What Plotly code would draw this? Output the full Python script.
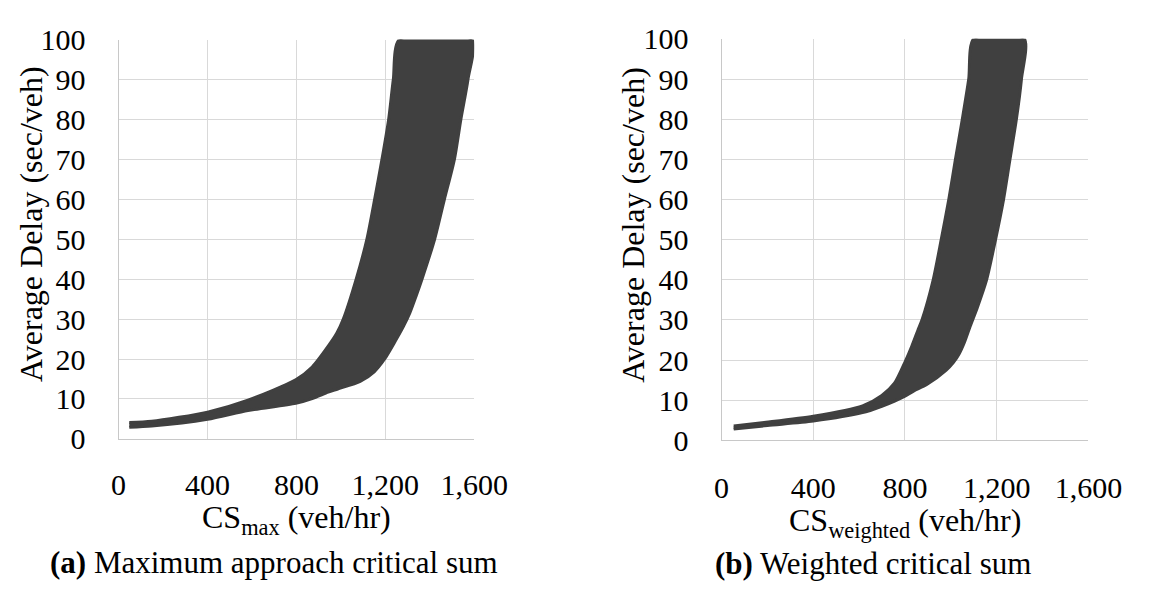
import plotly.graph_objects as go

W, H = 1161, 597

# ---------------- data ----------------
x_ticks = [0, 400, 800, 1200, 1600]
x_tick_labels = ["0", "400", "800", "1,200", "1,600"]
y_ticks = [0, 10, 20, 30, 40, 50, 60, 70, 80, 90, 100]

# Panel (a): CS_max -- upper (left/top) and lower (right/bottom) edges of the point cloud
a_upper_x = [48, 149, 400, 582, 797, 871, 943, 982, 1011, 1069, 1117, 1152, 1185, 1215, 1236, 1263]
a_upper_y = [4.1, 4.4, 6.7, 9.7, 14.8, 18.0, 23.2, 26.5, 30, 40, 50, 60, 70, 80, 90, 100]
a_lower_x = [48, 149, 400, 582, 797, 871, 943, 986, 1087, 1150, 1197, 1245, 1280, 1310, 1340, 1365, 1422, 1466, 1511, 1540, 1572, 1590]
a_lower_y = [2.9, 3.2, 4.9, 7.1, 8.9, 10.1, 11.7, 12.5, 14.4, 16.8, 20.0, 24.5, 28.0, 31.5, 36.0, 40, 50, 60, 70, 80, 90, 100]

# Panel (b): CS_weighted
b_upper_x = [53, 194, 400, 615, 699, 755, 800, 830, 860, 874, 923, 958, 991, 1020, 1050, 1078, 1100]
b_upper_y = [3.6, 4.5, 6.0, 8.6, 11.2, 14.3, 19.5, 23.5, 28, 30, 40, 50, 60, 70, 80, 90, 100]
b_lower_x = [53, 200, 400, 615, 699, 755, 800, 839, 895, 980, 1010, 1036, 1060, 1085, 1115, 1156, 1195, 1230, 1258, 1286, 1308, 1320]
b_lower_y = [2.8, 3.7, 4.8, 6.9, 8.5, 9.8, 11.0, 12.3, 13.9, 17.5, 19.3, 21.5, 24.5, 28.5, 33, 40, 50, 60, 70, 80, 90, 100]

y_title = "Average Delay (sec/veh)"
a_x_title = "CS<sub>max</sub> (veh/hr)"
b_x_title = "CS<sub>weighted</sub> (veh/hr)"
a_caption = "<b>(a)</b> Maximum approach critical sum"
b_caption = "<b>(b)</b> Weighted critical sum"

# ---------------- style ----------------
FONT = "Liberation Serif"
CLOUD = "#404040"
GRID = "#d9d9d9"
AXIS = "#c8c8c8"
TICK_SIZE = 30
TITLE_SIZE = 32
CAP_SIZE = 31

fig = go.Figure()


def band(ux, uy, lx, ly, xa, ya):
    xs = list(ux) + list(reversed(lx))
    ys = list(uy) + list(reversed(ly))
    fig.add_trace(go.Scatter(
        x=xs, y=ys, mode="lines", fill="toself",
        fillcolor=CLOUD, line=dict(color=CLOUD, width=3, shape="spline", smoothing=0.7),
        xaxis=xa, yaxis=ya, showlegend=False, hoverinfo="skip"))


band(a_upper_x, a_upper_y, a_lower_x, a_lower_y, "x", "y")
band(b_upper_x, b_upper_y, b_lower_x, b_lower_y, "x2", "y2")


def px_x(p):
    return p / W


def px_y(p):
    return 1 - p / H


def xaxis_style(standoff):
    return dict(range=[0, 1600], tickvals=x_ticks, ticktext=x_tick_labels,
                showgrid=True, gridcolor=GRID, gridwidth=1,
                showline=True, linecolor=AXIS, linewidth=1, mirror=False,
                zeroline=False, ticks="", ticklabelstandoff=standoff,
                tickfont=dict(family=FONT, size=TICK_SIZE, color="#000"),
                fixedrange=True)


yaxis_style = dict(range=[0, 100], tickvals=y_ticks,
                   showgrid=True, gridcolor=GRID, gridwidth=1,
                   showline=True, linecolor=AXIS, linewidth=1, mirror=False,
                   zeroline=False, ticks="", ticklabelstandoff=26,
                   tickfont=dict(family=FONT, size=TICK_SIZE, color="#000"),
                   fixedrange=True)

fig.update_layout(
    width=W, height=H,
    margin=dict(l=0, r=0, t=0, b=0),
    paper_bgcolor="white", plot_bgcolor="white",
    font=dict(family=FONT, color="#000"),
    xaxis=dict(domain=[px_x(115.7), px_x(484.3)], anchor="y", **xaxis_style(19)),
    yaxis=dict(domain=[px_y(447.6), px_y(25.0)], anchor="x", **yaxis_style),
    xaxis2=dict(domain=[px_x(740.7), px_x(1121.0)], anchor="y2", **xaxis_style(21)),
    yaxis2=dict(domain=[px_y(449.2), px_y(24.2)], anchor="x2", **yaxis_style),
)


def label(text, x, y, size, angle=0, xanchor="center"):
    return dict(text=text, textangle=angle, x=px_x(x), y=px_y(y), xref="paper", yref="paper",
                showarrow=False, xanchor=xanchor, yanchor="middle",
                font=dict(family=FONT, size=size, color="#000"))


fig.update_layout(annotations=[
    label(y_title, 25, 220, TITLE_SIZE, angle=-90),
    label(y_title, 649, 221, TITLE_SIZE, angle=-90),
    label(a_x_title, 300, 533, TITLE_SIZE),
    label(b_x_title, 931, 536, TITLE_SIZE),
    label(a_caption, 42.7, 578, CAP_SIZE, xanchor="left"),
    label(b_caption, 731.7, 580, CAP_SIZE, xanchor="left"),
])

fig.write_html("out.html", config={"displayModeBar": False},
               post_script="document.body.style.margin='0px';")
